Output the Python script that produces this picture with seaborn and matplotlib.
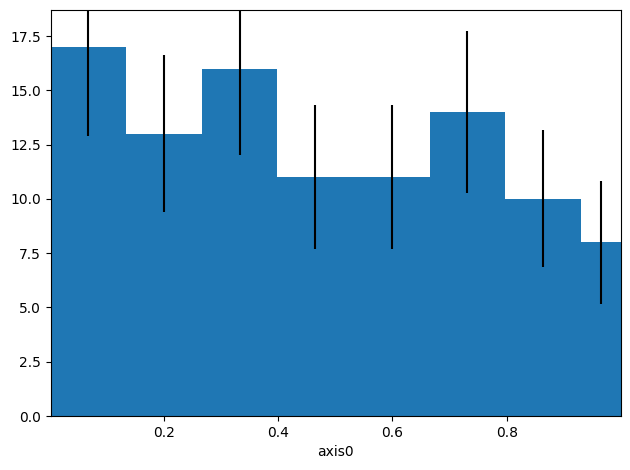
import matplotlib
matplotlib.use('Agg')
import matplotlib.pyplot as plt
import seaborn as sns

# histogram data
edges = [0.002, 0.134, 0.267, 0.399, 0.532, 0.665, 0.797, 0.930, 0.999]
counts = [17, 13, 16, 11, 11, 14, 10, 8]
errors = [4.12, 3.61, 4.00, 3.32, 3.32, 3.74, 3.16, 2.83]

centers = [(edges[i] + edges[i + 1]) / 2 for i in range(len(counts))]

fig, ax = plt.subplots(figsize=(6.3, 4.7), dpi=100)
sns.histplot(x=centers, weights=counts, bins=edges, color='#1f77b4',
             alpha=1, linewidth=0, ax=ax)
ax.errorbar(centers, counts, yerr=errors, fmt='none', ecolor='black', lw=1.5)

ax.set_xlim(edges[0], edges[-1])
ax.set_ylim(0, max(counts) * 1.1)
ax.set_xlabel('axis0')
ax.set_ylabel('')
ax.set_xticks([0.2, 0.4, 0.6, 0.8])

fig.subplots_adjust(left=50.5 / 630, right=620.5 / 630,
                    top=1 - 10 / 470, bottom=1 - 416 / 470)
plt.savefig('out.png')
